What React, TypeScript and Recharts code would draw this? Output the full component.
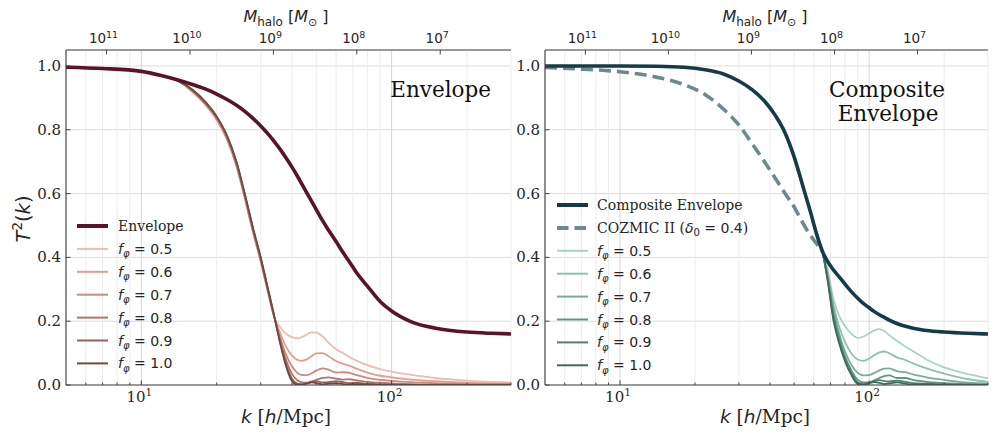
import React from 'react';
import { LineChart, Line, XAxis, YAxis, CartesianGrid, ReferenceLine } from 'recharts';

const SERIF = '"DejaVu Serif", serif';
const SANS = '"DejaVu Sans", sans-serif';
const AXIS = '#444';
const TEXT = '#262626';

// ---- left panel: single-fraction transfer functions and their envelope ----
const kLeft = [5, 7, 10, 12, 14, 16, 18, 20, 22, 24, 26, 28, 30, 32, 34, 36, 38, 40, 42, 44, 46, 48, 50, 53, 56, 60, 64, 68, 72, 80, 90, 100, 120, 150, 200, 250, 300];

const envelope = [0.996, 0.992, 0.983, 0.970, 0.956, 0.942, 0.928, 0.912, 0.895, 0.877, 0.857, 0.835, 0.812, 0.788, 0.763, 0.737, 0.710, 0.683, 0.655, 0.627, 0.600, 0.575, 0.550, 0.515, 0.485, 0.450, 0.415, 0.385, 0.355, 0.310, 0.262, 0.232, 0.198, 0.178, 0.166, 0.162, 0.160];

const leftF05 = [0.996, 0.992, 0.983, 0.970, 0.954, 0.918, 0.878, 0.830, 0.768, 0.684, 0.578, 0.474, 0.385, 0.292, 0.210, 0.180, 0.160, 0.150, 0.147, 0.151, 0.159, 0.165, 0.164, 0.152, 0.133, 0.112, 0.100, 0.087, 0.077, 0.062, 0.050, 0.042, 0.032, 0.022, 0.014, 0.010, 0.008];
const leftF06 = [0.996, 0.992, 0.983, 0.970, 0.954, 0.920, 0.880, 0.833, 0.771, 0.687, 0.581, 0.477, 0.388, 0.295, 0.211, 0.160, 0.118, 0.092, 0.079, 0.076, 0.081, 0.091, 0.099, 0.100, 0.090, 0.075, 0.066, 0.060, 0.052, 0.039, 0.029, 0.024, 0.017, 0.012, 0.007, 0.005, 0.004];
const leftF07 = [0.996, 0.992, 0.983, 0.970, 0.954, 0.921, 0.882, 0.835, 0.774, 0.690, 0.585, 0.480, 0.391, 0.297, 0.212, 0.145, 0.092, 0.058, 0.038, 0.031, 0.031, 0.037, 0.045, 0.052, 0.048, 0.039, 0.040, 0.038, 0.032, 0.022, 0.016, 0.013, 0.009, 0.006, 0.003, 0.002, 0.002];
const leftF08 = [0.996, 0.992, 0.983, 0.970, 0.954, 0.923, 0.884, 0.838, 0.777, 0.694, 0.588, 0.484, 0.394, 0.300, 0.213, 0.135, 0.075, 0.035, 0.015, 0.008, 0.007, 0.010, 0.016, 0.022, 0.024, 0.020, 0.017, 0.018, 0.015, 0.010, 0.007, 0.005, 0.003, 0.002, 0.001, 0.001, 0.001];
const leftF09 = [0.996, 0.992, 0.983, 0.970, 0.954, 0.924, 0.886, 0.840, 0.780, 0.697, 0.592, 0.487, 0.397, 0.302, 0.214, 0.130, 0.062, 0.020, 0.004, 0.002, 0.006, 0.011, 0.012, 0.008, 0.009, 0.012, 0.009, 0.006, 0.007, 0.004, 0.002, 0.001, 0, 0, 0, 0, 0];
const leftF10 = [0.996, 0.992, 0.983, 0.970, 0.954, 0.926, 0.888, 0.842, 0.782, 0.700, 0.595, 0.490, 0.400, 0.305, 0.215, 0.125, 0.055, 0.012, 0.001, 0.002, 0.005, 0.008, 0.006, 0.002, 0.004, 0.006, 0.003, 0.002, 0.003, 0.001, 0, 0, 0, 0, 0, 0, 0];

// ---- right panel: composite envelope, COZMIC II and single fractions ----
const kRight = [5, 7, 10, 14, 18, 22, 26, 30, 34, 38, 42, 46, 50, 54, 58, 62, 65, 68, 72, 76, 80, 85, 90, 95, 100, 105, 110, 115, 120, 130, 140, 150, 170, 200, 250, 300];

const composite = [1.0, 1.0, 1.0, 0.999, 0.996, 0.988, 0.975, 0.953, 0.925, 0.890, 0.845, 0.790, 0.715, 0.628, 0.545, 0.465, 0.418, 0.388, 0.360, 0.338, 0.316, 0.292, 0.272, 0.255, 0.242, 0.230, 0.220, 0.212, 0.204, 0.192, 0.184, 0.178, 0.171, 0.166, 0.162, 0.160];
const cozmic = [0.995, 0.990, 0.982, 0.965, 0.942, 0.910, 0.865, 0.815, 0.755, 0.700, 0.648, 0.600, 0.558, 0.510, 0.470, 0.440, 0.418, null, null, null, null, null, null, null, null, null, null, null, null, null, null, null, null, null, null, null];

const pre = [null, null, null, null, null, null, null, null, null, null, null, null, null, null, null, null];
const rightF05 = [...pre, 0.418, 0.365, 0.268, 0.215, 0.185, 0.160, 0.148, 0.152, 0.162, 0.171, 0.175, 0.169, 0.157, 0.137, 0.120, 0.106, 0.080, 0.055, 0.034, 0.021];
const rightF06 = [...pre, 0.418, 0.355, 0.250, 0.180, 0.135, 0.098, 0.080, 0.076, 0.083, 0.094, 0.102, 0.105, 0.100, 0.086, 0.078, 0.068, 0.052, 0.036, 0.018, 0.010];
const rightF07 = [...pre, 0.418, 0.348, 0.235, 0.158, 0.105, 0.062, 0.038, 0.030, 0.031, 0.038, 0.046, 0.051, 0.052, 0.043, 0.040, 0.033, 0.024, 0.016, 0.007, 0.004];
const rightF08 = [...pre, 0.418, 0.342, 0.222, 0.145, 0.090, 0.045, 0.016, 0.008, 0.008, 0.015, 0.022, 0.028, 0.030, 0.022, 0.022, 0.016, 0.010, 0.006, 0.003, 0.002];
const rightF09 = [...pre, 0.418, 0.337, 0.210, 0.135, 0.080, 0.036, 0.008, 0.002, 0.006, 0.012, 0.015, 0.012, 0.011, 0.014, 0.010, 0.006, 0.004, 0.002, 0.001, 0];
const rightF10 = [...pre, 0.418, 0.332, 0.200, 0.128, 0.075, 0.030, 0.004, 0.002, 0.006, 0.009, 0.007, 0.003, 0.005, 0.008, 0.004, 0.002, 0.002, 0.001, 0, 0];

const fractions = ['0.5', '0.6', '0.7', '0.8', '0.9', '1.0'];
const leftColors = ['#efbdae', '#e09f8e', '#ca8b7e', '#b0766a', '#93615a', '#6f4a44'];
const rightColors = ['#a8d3c3', '#8ec1ae', '#78ab99', '#639584', '#517f70', '#42695d'];
const ENVELOPE_COLOR = '#5a1329';
const COMPOSITE_COLOR = '#143c47';
const COZMIC_COLOR = '#6d8990';

const yTicks = [0, 0.2, 0.4, 0.6, 0.8, 1.0];
const kMajor = [10, 100];
const kMinor = [6, 7, 8, 9, 20, 30, 40, 50, 60, 70, 80, 90, 200, 300];
const kTicks = [6, 7, 8, 9, 10, 20, 30, 40, 50, 60, 70, 80, 90, 100, 200, 300];
// halo mass scales as k^-3; M = 1e9 Msun sits at k ~ 33.7 h/Mpc
const massExponents = [11, 10, 9, 8, 7];
const K_AT_1E9 = 33.7;
const massTickK = massExponents.map((e) => K_AT_1E9 * Math.pow(10, (9 - e) / 3));

const leftData = kLeft.map((k, i) => ({
  k,
  envelope: envelope[i],
  f0: leftF05[i], f1: leftF06[i], f2: leftF07[i], f3: leftF08[i], f4: leftF09[i], f5: leftF10[i],
}));
const rightData = kRight.map((k, i) => ({
  k,
  composite: composite[i],
  cozmic: cozmic[i],
  f0: rightF05[i], f1: rightF06[i], f2: rightF07[i], f3: rightF08[i], f4: rightF09[i], f5: rightF10[i],
}));

const BottomTick = (props: any) => {
  const { x, y, payload } = props;
  const v = payload.value;
  const major = kMajor.includes(v);
  return (
    <g>
      <line x1={x} y1={y} x2={x} y2={y - (major ? 4.5 : 2.5)} stroke={AXIS} strokeWidth={1} />
      {major && (
        <text x={x - 2} y={y + 17} textAnchor="middle" fontFamily={SERIF} fontSize={15} fill={TEXT}>
          10<tspan dy={-6} fontSize={10.5}>{Math.round(Math.log10(v))}</tspan>
        </text>
      )}
    </g>
  );
};

const TopTick = (props: any) => {
  const { x, y, index } = props;
  return (
    <g>
      <line x1={x} y1={y} x2={x} y2={y + 4.5} stroke={AXIS} strokeWidth={1} />
      <text x={x - 3} y={y - 7} textAnchor="middle" fontFamily={SANS} fontSize={13.5} fill={TEXT}>
        10<tspan dy={-5.5} fontSize={9.5}>{massExponents[index]}</tspan>
      </text>
    </g>
  );
};

const LeftTick = (props: any) => {
  const { x, y, payload } = props;
  return (
    <g>
      <line x1={x} y1={y} x2={x + 4.5} y2={y} stroke={AXIS} strokeWidth={1} />
      <text x={x - 5} y={y + 5} textAnchor="end" fontFamily={SERIF} fontSize={15} fill={TEXT}>
        {Number(payload.value).toFixed(1)}
      </text>
    </g>
  );
};

const RightTick = (props: any) => {
  const { x, y } = props;
  return <line x1={x} y1={y} x2={x - 4.5} y2={y} stroke={AXIS} strokeWidth={1} />;
};

function Panel({ data, leftWidth, rightMargin, children }: any) {
  const width = leftWidth === 66 ? 520 : 500;
  return (
    <LineChart width={width} height={440} data={data} margin={{ top: 0, right: rightMargin, bottom: 0, left: 0 }}>
      <XAxis xAxisId="bottom" dataKey="k" type="number" scale="log" domain={[5, 300]} allowDataOverflow
        ticks={kTicks} interval={0} tick={BottomTick} tickLine={false} tickSize={0} tickMargin={0}
        height={55} axisLine={{ stroke: AXIS, strokeWidth: 1.2 }} />
      <XAxis xAxisId="top" orientation="top" dataKey="k" type="number" scale="log" domain={[5, 300]} allowDataOverflow
        ticks={massTickK} interval={0} tick={TopTick} tickLine={false} tickSize={0} tickMargin={0}
        height={50} axisLine={{ stroke: AXIS, strokeWidth: 1.2 }} />
      <YAxis yAxisId="left" type="number" domain={[0, 1.05]} allowDataOverflow ticks={yTicks} interval={0}
        tick={LeftTick} tickLine={false} tickSize={0} tickMargin={0} width={leftWidth}
        axisLine={{ stroke: AXIS, strokeWidth: 1.2 }} />
      <YAxis yAxisId="right" orientation="right" type="number" domain={[0, 1.05]} allowDataOverflow ticks={yTicks}
        interval={0} tick={RightTick} tickLine={false} tickSize={0} tickMargin={0} width={0}
        axisLine={{ stroke: AXIS, strokeWidth: 1.2 }} />
      <CartesianGrid xAxisId="bottom" yAxisId="left" vertical={false} stroke="#dddddd" strokeWidth={1} />
      {kMinor.map((v) => (
        <ReferenceLine key={'m' + v} xAxisId="bottom" yAxisId="left" x={v} stroke="#ececec" strokeWidth={1} />
      ))}
      {kMajor.map((v) => (
        <ReferenceLine key={'M' + v} xAxisId="bottom" yAxisId="left" x={v} stroke="#d6d6d6" strokeWidth={1} />
      ))}
      {children}
    </LineChart>
  );
}

function fractionLines(colors: string[]) {
  return fractions.map((f, i) => (
    <Line key={f} xAxisId="bottom" yAxisId="left" dataKey={'f' + i} type="monotone" stroke={colors[i]}
      strokeWidth={1.8} dot={false} isAnimationActive={false} name={'f = ' + f} />
  ));
}

const FracLabel = ({ x, y, v }: { x: number; y: number; v: string }) => (
  <text x={x} y={y + 5} fontFamily={SANS} fontSize={14} fill={TEXT}>
    <tspan fontStyle="italic">f</tspan>
    <tspan fontStyle="italic" fontSize={10} dy={3.5}>φ</tspan>
    <tspan dy={-3.5}>{' = ' + v}</tspan>
  </text>
);

function Overlay() {
  const step = 22.9;
  return (
    <svg width={1000} height={440} style={{ position: 'absolute', left: 0, top: 0, pointerEvents: 'none' }}>
      {/* panel titles */}
      <text x={491} y={97} textAnchor="end" fontFamily={SERIF} fontSize={21.5} fill="#111">Envelope</text>
      <text x={887} y={97} textAnchor="middle" fontFamily={SERIF} fontSize={21.5} fill="#111">Composite</text>
      <text x={888} y={121} textAnchor="middle" fontFamily={SERIF} fontSize={21.5} fill="#111">Envelope</text>

      {/* axis labels */}
      <g transform="translate(30,219) rotate(-90)">
        <text x={0} y={0} textAnchor="middle" fontFamily={SANS} fontSize={19.5} fill={TEXT}>
          <tspan fontStyle="italic">T</tspan>
          <tspan dy={-8} fontSize={13.5}>2</tspan>
          <tspan dy={8}>(</tspan>
          <tspan fontStyle="italic">k</tspan>
          <tspan>)</tspan>
        </text>
      </g>
      {[286, 765].map((cx) => (
        <g key={'b' + cx}>
          <text x={cx} y={423} textAnchor="middle" fontFamily={SERIF} fontSize={18.5} fill={TEXT}>
            <tspan fontFamily={SANS} fontStyle="italic">k</tspan>
            <tspan> [</tspan>
            <tspan fontFamily={SANS} fontStyle="italic">h</tspan>
            <tspan>/Mpc]</tspan>
          </text>
          <text x={cx} y={22} textAnchor="middle" fontFamily={SANS} fontSize={16} fill={TEXT}>
            <tspan fontStyle="italic">M</tspan>
            <tspan dy={4} fontSize={12}>halo</tspan>
            <tspan dy={-4}> [</tspan>
            <tspan fontStyle="italic">M</tspan>
            <tspan dy={4} fontSize={11}>⊙</tspan>
            <tspan dy={-4}> ]</tspan>
          </text>
        </g>
      ))}

      {/* left legend */}
      <line x1={77} x2={108} y1={226} y2={226} stroke={ENVELOPE_COLOR} strokeWidth={4} />
      <text x={118} y={231} fontFamily={SERIF} fontSize={14} fill={TEXT}>Envelope</text>
      {fractions.map((f, i) => {
        const y = 226 + step * (i + 1);
        return (
          <g key={'ll' + f}>
            <line x1={77} x2={108} y1={y} y2={y} stroke={leftColors[i]} strokeWidth={2} />
            <FracLabel x={118} y={y} v={f} />
          </g>
        );
      })}

      {/* right legend */}
      <line x1={557} x2={588} y1={205} y2={205} stroke={COMPOSITE_COLOR} strokeWidth={4} />
      <text x={597} y={210} fontFamily={SERIF} fontSize={14} fill={TEXT}>Composite Envelope</text>
      <line x1={557} x2={588} y1={205 + step} y2={205 + step} stroke={COZMIC_COLOR} strokeWidth={4} strokeDasharray="11.5 6" />
      <text x={597} y={210 + step} fontFamily={SERIF} fontSize={14} fill={TEXT}>
        COZMIC II (<tspan fontFamily={SANS} fontStyle="italic">δ</tspan>
        <tspan fontFamily={SANS} fontSize={10} dy={3.5}>0</tspan>
        <tspan fontFamily={SANS} dy={-3.5}>{' = 0.4'}</tspan>)
      </text>
      {fractions.map((f, i) => {
        const y = 205 + step * (i + 2);
        return (
          <g key={'rl' + f}>
            <line x1={557} x2={588} y1={y} y2={y} stroke={rightColors[i]} strokeWidth={2} />
            <FracLabel x={597} y={y} v={f} />
          </g>
        );
      })}
    </svg>
  );
}

export default function App() {
  return (
    <div style={{ position: 'absolute', left: 0, top: 0, width: 1000, height: 440, background: '#fff' }}>
      <div style={{ position: 'absolute', left: 0, top: 0 }}>
        <Panel data={leftData} leftWidth={66} rightMargin={9}>
          {fractionLines(leftColors)}
          <Line xAxisId="bottom" yAxisId="left" dataKey="envelope" type="monotone" stroke={ENVELOPE_COLOR}
            strokeWidth={3.6} dot={false} isAnimationActive={false} name="Envelope" />
        </Panel>
      </div>
      <div style={{ position: 'absolute', left: 500, top: 0 }}>
        <Panel data={rightData} leftWidth={45} rightMargin={12}>
          {fractionLines(rightColors)}
          <Line xAxisId="bottom" yAxisId="left" dataKey="cozmic" type="monotone" stroke={COZMIC_COLOR}
            strokeWidth={3.6} strokeDasharray="12 6" dot={false} isAnimationActive={false} name="COZMIC II" />
          <Line xAxisId="bottom" yAxisId="left" dataKey="composite" type="monotone" stroke={COMPOSITE_COLOR}
            strokeWidth={3.6} dot={false} isAnimationActive={false} name="Composite Envelope" />
        </Panel>
      </div>
      <Overlay />
    </div>
  );
}
